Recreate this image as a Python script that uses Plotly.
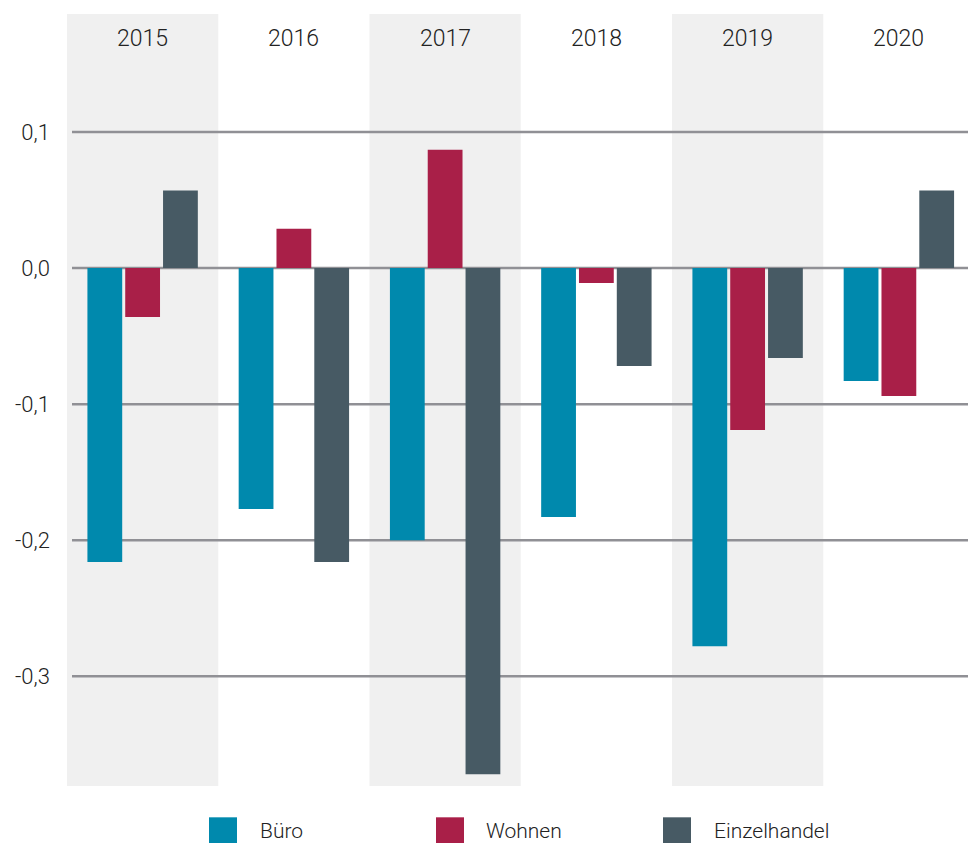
import plotly.graph_objects as go

years = ["2015", "2016", "2017", "2018", "2019", "2020"]
buero = [-0.216, -0.177, -0.200, -0.183, -0.278, -0.083]
wohnen = [-0.036, 0.029, 0.087, -0.011, -0.119, -0.094]
einzelhandel = [0.057, -0.216, -0.372, -0.072, -0.066, 0.057]
series_names = ["Büro", "Wohnen", "Einzelhandel"]
series_values = [buero, wohnen, einzelhandel]
colors = ["#0089AD", "#A91F48", "#475A64"]
tick_vals = [0.1, 0.0, -0.1, -0.2, -0.3]
tick_text = ["0,1", "0,0", "-0,1", "-0,2", "-0,3"]

FONT = "Roboto"
TXT = "#222222"

W, H = 968, 843
PL, PT, PW, PH = 67, 14, 901, 771.7

fig = go.Figure()
for name, vals, col in zip(series_names, series_values, colors):
    fig.add_trace(go.Bar(x=years, y=vals, name=name, marker=dict(color=col, line=dict(width=0)),
                         showlegend=False, hoverinfo="x+y+name"))

shapes = []
for i, y in enumerate(years):
    if i % 2 == 0:
        shapes.append(dict(type="rect", xref="x", yref="paper", x0=i - 0.5, x1=i + 0.5, y0=0, y1=1,
                           fillcolor="#F0F0F0", line=dict(width=0), layer="below"))
for v in tick_vals:
    shapes.append(dict(type="line", xref="paper", yref="y", x0=5 / PW, x1=1, y0=v, y1=v,
                       line=dict(color="#909095", width=2.5), layer="below"))

annotations = []
for i, y in enumerate(years):
    annotations.append(dict(x=i, xref="x", y=1, yref="paper", yshift=-24, text=y, showarrow=False,
                            yanchor="middle", xanchor="center",
                            font=dict(family=FONT, size=23, color=TXT, weight=300)))

# custom legend (page coords relative to plot area)
leg_sq_x = [209, 436, 663]
leg_txt_x = [258, 484, 712]
for name, col, sx, tx in zip(series_names, colors, leg_sq_x, leg_txt_x):
    shapes.append(dict(type="rect", xref="paper", yref="paper",
                       x0=(sx - PL) / PW, x1=(sx + 28 - PL) / PW,
                       y0=-(817 - (PT + PH)) / PH, y1=-(845 - (PT + PH)) / PH,
                       fillcolor=col, line=dict(width=0)))
    annotations.append(dict(x=(tx - PL) / PW, xref="paper", y=-(831 - (PT + PH)) / PH, yref="paper",
                            text=name, showarrow=False, xanchor="left", yanchor="middle",
                            font=dict(family=FONT, size=21, color=TXT, weight=300)))

fig.update_layout(
    width=W, height=H,
    margin=dict(l=PL, r=0, t=PT, b=H - PT - PH, autoexpand=False),
    paper_bgcolor="white", plot_bgcolor="white",
    barmode="group", bargap=0.25, bargroupgap=0.08,
    separators=",.",
    shapes=shapes, annotations=annotations,
    xaxis=dict(type="category", range=[-0.5, 5.457], showticklabels=False, showgrid=False,
               zeroline=False, showline=False, ticks=""),
    yaxis=dict(range=[-0.3807, 0.1868], tickvals=tick_vals, ticktext=tick_text, showgrid=False,
               zeroline=False, showline=False, ticks="", ticklabelstandoff=16,
               tickfont=dict(family=FONT, size=22, color=TXT, weight=300)),
    showlegend=False,
)

fig.write_html("out.html", config={"displayModeBar": False},
               post_script="document.body.style.margin='0';document.body.style.overflow='hidden';")
